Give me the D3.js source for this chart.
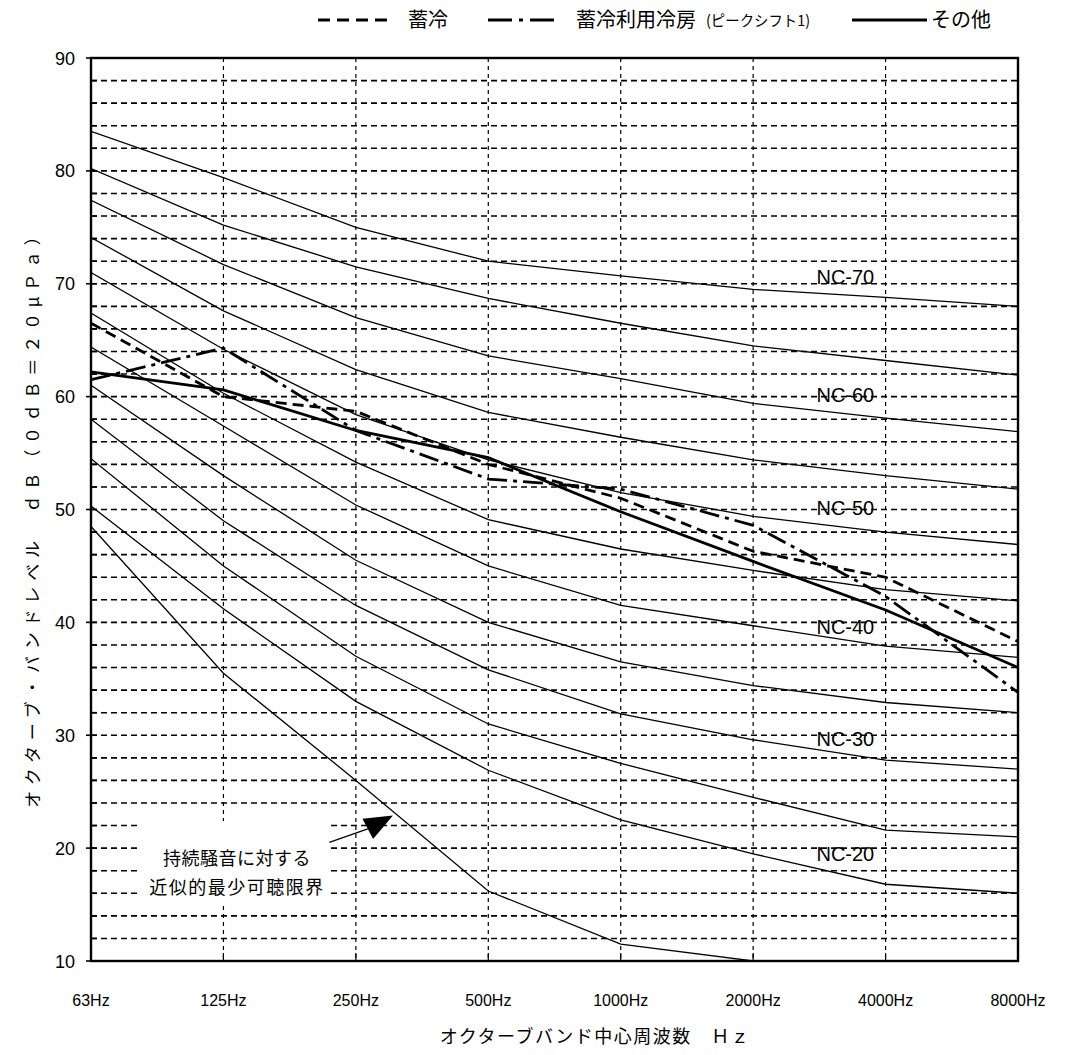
<!DOCTYPE html>
<html><head><meta charset="utf-8">
<script src="https://cdn.jsdelivr.net/npm/d3@7"></script>
<style>
html,body{margin:0;padding:0;background:#fff;}
svg{display:block;}
.lat{font-family:"Liberation Sans",Arial,sans-serif;}
.jp{font-family:"Noto Sans CJK JP","Noto Sans",sans-serif;}
</style></head>
<body>
<svg id="chart" width="1068" height="1055"></svg>
<script>
// ---- data ----
const freqs = ["63Hz","125Hz","250Hz","500Hz","1000Hz","2000Hz","4000Hz","8000Hz"];
const yTicks = [10,20,30,40,50,60,70,80,90];
const nc70 = [83.5,79.4,75.0,72.0,70.7,69.5,68.8,68.0];
const nc65 = [80.2,75.2,71.5,68.7,66.5,64.5,63.2,61.9];
const nc60 = [77.4,71.7,67.0,63.6,61.6,59.4,58.1,56.9];
const nc55 = [74.1,67.6,62.4,58.6,56.4,54.4,53.0,51.8];
const nc50 = [71.0,64.2,58.4,54.4,51.5,49.4,48.0,46.9];
const nc45 = [67.4,60.3,54.2,49.1,46.5,44.6,42.9,41.9];
const nc40 = [64.4,57.4,50.4,45.0,41.5,39.7,37.9,36.9];
const nc35 = [61.0,53.0,45.5,40.0,36.5,34.4,32.9,32.0];
const nc30 = [58.0,49.0,41.5,35.8,31.9,29.6,27.8,27.0];
const nc25 = [54.5,45.0,37.0,31.0,27.5,24.5,21.6,21.0];
const nc20 = [50.3,41.2,33.0,26.9,22.5,19.5,16.8,16.0];
const threshold = [48.5,35.5,26.0,16.2,11.5,10.0];   // 持続騒音に対する近似的最少可聴限界 (63–2000Hz)
const chikurei = [66.5,60.0,58.7,54.0,51.0,46.3,44.0,38.3];        // 蓄冷 (dashed)
const chikureiRiyou = [61.5,64.3,57.0,52.7,51.8,48.6,42.3,33.8];   // 蓄冷利用冷房 (dash-dot)
const sonota = [62.2,60.6,57.0,54.6,49.8,45.4,41.1,36.0];          // その他 (solid)
const ncLabels = ["NC-70","NC-60","NC-50","NC-40","NC-30","NC-20"];
const ncLabelLevels = [70.6,60.1,50.1,39.6,29.7,19.5];
const legendNames = ["蓄冷","蓄冷利用冷房","その他"];

// ---- layout ----
const L = 91, R = 1018, T = 58, B = 961;
const svg = d3.select("#chart");
const x = d3.scalePoint().domain(freqs).range([L, R]).padding(0);
const y = d3.scaleLinear().domain([10, 90]).range([B, T]);

svg.append("defs").append("clipPath").attr("id","clip")
  .append("rect").attr("x",L).attr("y",T).attr("width",R-L).attr("height",B-T);

// horizontal grid every 2 dB
const hgrid = d3.range(12, 90, 2);
svg.append("g").selectAll("line").data(hgrid).join("line")
  .attr("x1", L).attr("x2", R).attr("y1", d=>y(d)).attr("y2", d=>y(d))
  .attr("stroke","#000").attr("stroke-width",1.6).attr("stroke-dasharray","6,4");

// vertical grid
svg.append("g").selectAll("line").data(freqs.slice(1,-1)).join("line")
  .attr("x1", d=>x(d)).attr("x2", d=>x(d)).attr("y1", T).attr("y2", B)
  .attr("stroke","#000").attr("stroke-width",1.2).attr("stroke-dasharray","4,4");

// inner ticks on bottom
svg.append("g").selectAll("line").data(freqs.slice(1,-1)).join("line")
  .attr("x1", d=>x(d)).attr("x2", d=>x(d)).attr("y1", B-8).attr("y2", B)
  .attr("stroke","#000").attr("stroke-width",1.2);

// left ticks
svg.append("g").selectAll("line").data(d3.range(10, 91, 2)).join("line")
  .attr("x1", d=> d%10===0 ? L-5 : L).attr("x2", L+6).attr("y1", d=>y(d)).attr("y2", d=>y(d))
  .attr("stroke","#000").attr("stroke-width",1.6);

// white area behind annotation text
svg.append("rect").attr("x",140).attr("y",821).attr("width",190).attr("height",84).attr("fill","#fff");

const line = d3.line().x((d,i)=>x(freqs[i])).y(d=>y(d));
const ncAll = [nc70,nc65,nc60,nc55,nc50,nc45,nc40,nc35,nc30,nc25,nc20,threshold];
const gc = svg.append("g").attr("clip-path","url(#clip)");
gc.selectAll("path.nc").data(ncAll).join("path").attr("class","nc")
  .attr("d", d=>line(d)).attr("fill","none").attr("stroke","#000").attr("stroke-width",1.3);

// data series
const series = [
  {v: chikurei, dash: "11,6"},
  {v: chikureiRiyou, dash: "20,6,4,6"},
  {v: sonota, dash: null}
];
gc.selectAll("path.ser").data(series).join("path").attr("class","ser")
  .attr("d", d=>line(d.v)).attr("fill","none").attr("stroke","#000").attr("stroke-width",2.8)
  .attr("stroke-dasharray", d=>d.dash);

// frame
svg.append("rect").attr("x",L).attr("y",T).attr("width",R-L).attr("height",B-T)
  .attr("fill","none").attr("stroke","#000").attr("stroke-width",2.4);

// y tick labels
svg.append("g").selectAll("text").data(yTicks).join("text").attr("class","lat")
  .attr("x", 75).attr("y", d=>y(d)+6.5).attr("text-anchor","end")
  .attr("font-size",18).text(d=>d);

// x tick labels
svg.append("g").selectAll("text").data(freqs).join("text").attr("class","lat")
  .attr("x", d=>x(d)).attr("y", 1006).attr("text-anchor","middle")
  .attr("font-size",16).text(d=>d);

// NC labels
svg.append("g").selectAll("text").data(ncLabels).join("text").attr("class","lat")
  .attr("x", (x("2000Hz")+x("4000Hz"))/2 + 26).attr("y", (d,i)=>y(ncLabelLevels[i])+7)
  .attr("text-anchor","middle").attr("font-size",20).text(d=>d);

// axis titles
svg.append("text").attr("class","jp").attr("x",595).attr("y",1043)
  .attr("text-anchor","middle").attr("font-size",18).attr("letter-spacing",1.5)
  .text("オクターブバンド中心周波数　Ｈｚ");
svg.append("text").attr("class","jp")
  .attr("transform","translate(39,515) rotate(-90)")
  .attr("text-anchor","middle").attr("font-size",17).attr("letter-spacing",5.8)
  .text("オクターブ・バンドレベル　ｄＢ（０ｄＢ＝２０μＰａ）");

// annotation
const ax = x("250Hz"), step = x("500Hz")-x("250Hz");
const tip = [ax + step*0.28, y(22.9)];
const b1 = [ax + step*0.05, y(22.6)];
const b2 = [ax + step*0.13, y(20.8)];
const tail = [ax - step*0.2, y(20.5)];
svg.append("line").attr("x1",tail[0]).attr("y1",tail[1])
  .attr("x2",(b1[0]+b2[0])/2).attr("y2",(b1[1]+b2[1])/2).attr("stroke","#000").attr("stroke-width",1.3);
svg.append("path").attr("d", d3.line()([tip,b1,b2])+"Z").attr("fill","#000");
svg.append("text").attr("class","jp").attr("x",237).attr("y",865).attr("text-anchor","middle")
  .attr("font-size",18).attr("letter-spacing",0.5).text("持続騒音に対する");
svg.append("text").attr("class","jp").attr("x",237).attr("y",894).attr("text-anchor","middle")
  .attr("font-size",18).attr("letter-spacing",1.5).text("近似的最少可聴限界");

// legend
const lg = svg.append("g");
const legY = 20;
const legItems = [
  {x0:318, x1:390, dash:"12,7", tx:408, name: legendNames[0]},
  {x0:488, x1:558, dash:"24,7,4,7", tx:576, name: legendNames[1]},
  {x0:852, x1:927, dash:null, tx:931, name: legendNames[2]}
];
legItems.forEach(it=>{
  lg.append("line").attr("x1",it.x0).attr("x2",it.x1).attr("y1",legY).attr("y2",legY)
    .attr("stroke","#000").attr("stroke-width",2.8).attr("stroke-dasharray",it.dash);
  lg.append("text").attr("class","jp").attr("x",it.tx).attr("y",legY+7)
    .attr("font-size",20).text(it.name);
});
lg.append("text").attr("class","jp").attr("x",706).attr("y",legY+6)
  .attr("font-size",15).attr("textLength",104).attr("lengthAdjust","spacingAndGlyphs")
  .text("(ピークシフト1)");
</script>
</body></html>
